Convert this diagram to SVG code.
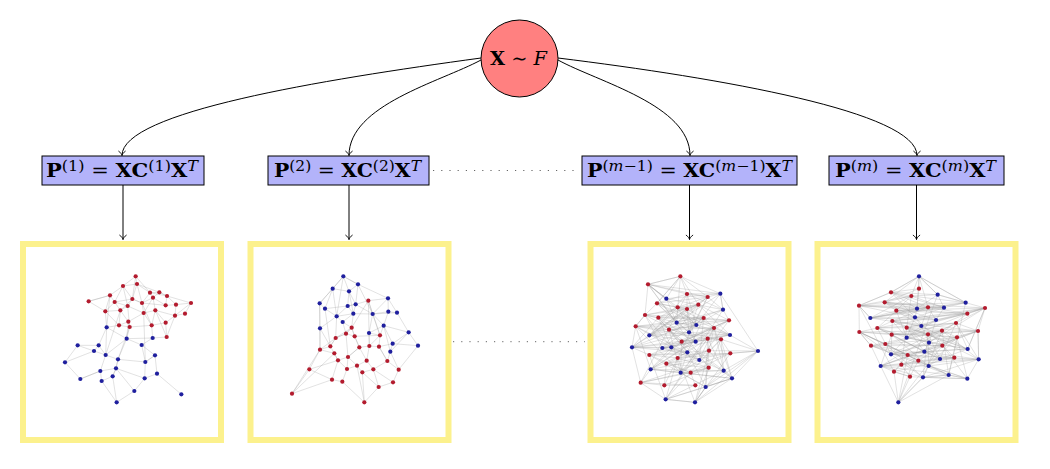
<svg xmlns="http://www.w3.org/2000/svg" xmlns:xlink="http://www.w3.org/1999/xlink" width="1050" height="469" viewBox="0 0 1050 469">
  <style>
    .math { font-family: "DejaVu Serif", "Liberation Serif", serif; font-size: 19px; fill: #000; }
    .bf { font-weight: bold; }
    .it { font-style: italic; }
    .sup { font-size: 14.5px; }
    .box { fill: #b3b3fa; stroke: #000; stroke-width: 1; }
    .frame { fill: #fff; stroke: #fcf18d; stroke-width: 6; }
    .link { fill: none; stroke: #000; stroke-width: 1; }
    .dots { fill: none; stroke: #666; stroke-width: 1; stroke-dasharray: 1.2 7; }
    .edges { fill: none; stroke: #9a9a9a; stroke-width: 1.6; stroke-opacity: 0.55; stroke-linejoin: round; }
  </style>
  <defs>
    <marker id="to" markerUnits="userSpaceOnUse" viewBox="-6 -5 7 10" refX="0" refY="0" markerWidth="7" markerHeight="10" orient="auto" overflow="visible">
      <path d="M-4.5,-3.6 C-3,-1.3 -1.2,-0.4 0,0 C-1.2,0.4 -3,1.3 -4.5,3.6" fill="none" stroke="#000" stroke-width="0.9"/>
    </marker>
    <circle id="rn" r="6.3" fill="#b31b2e"/>
    <circle id="bn" r="6.3" fill="#1f1f9e"/>
  </defs>

  <!-- source distribution -->
  <g id="source">
    <circle cx="519.5" cy="58.5" r="38.5" fill="#ff8080" stroke="#000" stroke-width="1"/>
    <text class="math" x="490" y="65" textLength="57" lengthAdjust="spacingAndGlyphs"><tspan class="bf">X</tspan> ∼ <tspan class="it">F</tspan></text>
  </g>

  <!-- probability matrices -->
  <g id="box-1">
    <rect class="box" x="42" y="156" width="162" height="29"/>
    <text class="math" x="46" y="177" textLength="152" lengthAdjust="spacingAndGlyphs"><tspan class="bf">P</tspan><tspan class="sup" dy="-6.5">(1)</tspan><tspan dy="6.5"> = </tspan><tspan class="bf">XC</tspan><tspan class="sup" dy="-6.5">(1)</tspan><tspan class="bf" dy="6.5">X</tspan><tspan class="sup it" dy="-6.5">T</tspan></text>
  </g>
  <g id="box-2">
    <rect class="box" x="268" y="156" width="161" height="29"/>
    <text class="math" x="274" y="177" textLength="147" lengthAdjust="spacingAndGlyphs"><tspan class="bf">P</tspan><tspan class="sup" dy="-6.5">(2)</tspan><tspan dy="6.5"> = </tspan><tspan class="bf">XC</tspan><tspan class="sup" dy="-6.5">(2)</tspan><tspan class="bf" dy="6.5">X</tspan><tspan class="sup it" dy="-6.5">T</tspan></text>
  </g>
  <g id="box-m-1">
    <rect class="box" x="582" y="156" width="215" height="29"/>
    <text class="math" x="587" y="177" textLength="205" lengthAdjust="spacingAndGlyphs"><tspan class="bf">P</tspan><tspan class="sup" dy="-6.5">(<tspan class="it">m</tspan>−1)</tspan><tspan dy="6.5"> = </tspan><tspan class="bf">XC</tspan><tspan class="sup" dy="-6.5">(<tspan class="it">m</tspan>−1)</tspan><tspan class="bf" dy="6.5">X</tspan><tspan class="sup it" dy="-6.5">T</tspan></text>
  </g>
  <g id="box-m">
    <rect class="box" x="829" y="156" width="175" height="29"/>
    <text class="math" x="835" y="177" textLength="161" lengthAdjust="spacingAndGlyphs"><tspan class="bf">P</tspan><tspan class="sup" dy="-6.5">(<tspan class="it">m</tspan>)</tspan><tspan dy="6.5"> = </tspan><tspan class="bf">XC</tspan><tspan class="sup" dy="-6.5">(<tspan class="it">m</tspan>)</tspan><tspan class="bf" dy="6.5">X</tspan><tspan class="sup it" dy="-6.5">T</tspan></text>
  </g>

  <!-- sampled graphs -->
  <g id="graph-1">
    <rect class="frame" x="23" y="244" width="198" height="196"/>
    <g transform="translate(20,235) scale(0.33333)">
      <path class="edges" d="M347 124L351 147L390 173L418 172L441 183L468 209L513 204L495 236L465 242L437 263L406 226L399 188L366 204L337 192L309 153L347 124L337 192L323 213L284 201L270 181L206 199L256 229L301 226L325 260L329 276L395 271L371 234L366 204L390 173L399 188L437 211L468 209L465 242L406 226L371 234L323 213L301 226L284 201L309 153L351 147L366 204L437 211L441 183L418 172L399 188L371 234L325 260L297 271L256 229L284 201L337 192L351 147L418 172"/>
      <path class="edges" d="M270 181L309 153L323 213L329 276L297 271L301 226L337 192L366 204L395 271L437 263L440 306L465 242L513 204L441 183L390 173L347 124M206 199L270 181L256 229M440 306L406 226L395 271"/>
      <path class="edges" d="M260 277L236 331L173 331L222 348L257 360L294 373L288 400L278 424L245 438L241 408L181 432L135 382L222 348L236 331L257 360L320 311L365 330L376 381L405 361L411 416L374 430L343 468L290 502L278 424L288 400L241 408L257 360L260 277L320 311L398 309L365 330L405 361L376 381L374 430L288 400L294 373L320 311"/>
      <path class="edges" d="M411 416L484 478M297 271L260 277L256 229M325 260L320 311L329 276L294 373M440 306L398 309L395 271M371 234L376 381M301 226L257 360M173 331L135 382M294 373L376 381M245 438L290 502M181 432L241 408M343 468L288 400M270 181L260 277"/>
      <g>
        <use href="#rn" x="347" y="124"/><use href="#rn" x="309" y="153"/><use href="#rn" x="351" y="147"/><use href="#rn" x="270" y="181"/>
        <use href="#rn" x="206" y="199"/><use href="#rn" x="284" y="201"/><use href="#rn" x="337" y="192"/><use href="#rn" x="390" y="173"/>
        <use href="#rn" x="418" y="172"/><use href="#rn" x="399" y="188"/><use href="#rn" x="441" y="183"/><use href="#rn" x="366" y="204"/>
        <use href="#rn" x="323" y="213"/><use href="#rn" x="301" y="226"/><use href="#rn" x="256" y="229"/><use href="#rn" x="371" y="234"/>
        <use href="#rn" x="406" y="226"/><use href="#rn" x="437" y="211"/><use href="#rn" x="468" y="209"/><use href="#rn" x="513" y="204"/>
        <use href="#rn" x="495" y="236"/><use href="#rn" x="465" y="242"/><use href="#rn" x="325" y="260"/><use href="#rn" x="297" y="271"/>
        <use href="#rn" x="329" y="276"/><use href="#rn" x="395" y="271"/><use href="#rn" x="437" y="263"/><use href="#rn" x="440" y="306"/>
        <use href="#bn" x="260" y="277"/><use href="#bn" x="320" y="311"/><use href="#bn" x="398" y="309"/><use href="#bn" x="365" y="330"/>
        <use href="#bn" x="173" y="331"/><use href="#bn" x="236" y="331"/><use href="#bn" x="222" y="348"/><use href="#bn" x="257" y="360"/>
        <use href="#bn" x="294" y="373"/><use href="#bn" x="405" y="361"/><use href="#bn" x="135" y="382"/><use href="#bn" x="376" y="381"/>
        <use href="#bn" x="288" y="400"/><use href="#bn" x="241" y="408"/><use href="#bn" x="411" y="416"/><use href="#bn" x="278" y="424"/>
        <use href="#bn" x="374" y="430"/><use href="#bn" x="181" y="432"/><use href="#bn" x="245" y="438"/><use href="#bn" x="343" y="468"/>
        <use href="#bn" x="484" y="478"/><use href="#bn" x="290" y="502"/>
      </g>
    </g>
  </g>

  <g id="graph-2">
    <rect class="frame" x="250.5" y="244" width="198" height="196"/>
    <g transform="translate(245,235) scale(0.33333)">
      <path class="edges" d="M295 124L339 148L312 169L263 161L295 124L312 169L308 213L332 208L339 148L383 237L429 190L430 230L456 233L491 292L519 332L443 326L436 350L416 272L430 230L383 237L325 236L275 244L240 221L224 205L263 161L240 221L308 213L325 236L332 208L383 237L372 294L416 272L491 292L443 326L416 272L383 237L456 233L429 190L339 148L295 124L263 161L224 205L225 280L275 244L293 261L325 236L312 169L332 208L308 213L275 244L263 161"/>
      <path class="edges" d="M370 197L405 301L373 333L343 337L329 304L320 278L303 296L272 309L256 334L225 344L268 355L279 376L309 366L343 337L365 377L373 333L402 335L427 378L461 404L444 442L401 456L385 403L365 377L336 392L306 402L292 440L261 434L193 403L141 476L261 434L279 376L268 355L256 334L272 309L320 278L329 304L303 296L309 366L336 392L352 412L385 403L427 378L402 335L405 301L329 304L343 337L309 366L306 402L279 376L193 403L225 344L272 309L303 296L320 278L370 197L373 333"/>
      <path class="edges" d="M358 502L352 412M358 502L292 440M358 502L401 456M358 502L336 392M141 476L268 355M141 476L225 344M352 412L401 456M444 442L385 403"/>
      <path class="edges" d="M225 280L225 344M225 280L256 334M293 261L303 296M293 261L320 278M372 294L373 333M372 294L405 301M416 272L405 301M443 326L402 335M436 350L427 378M436 350L461 404M519 332L461 404M275 244L272 309M325 236L320 278M383 237L405 301M370 197L383 237M370 197L332 208M370 197L429 190M224 205L225 344M240 221L256 334M491 292L436 350M295 124L275 244"/>
      <g>
        <use href="#rn" x="370" y="197"/><use href="#rn" x="320" y="278"/><use href="#rn" x="303" y="296"/><use href="#rn" x="329" y="304"/>
        <use href="#rn" x="272" y="309"/><use href="#rn" x="405" y="301"/><use href="#rn" x="256" y="334"/><use href="#rn" x="343" y="337"/>
        <use href="#rn" x="373" y="333"/><use href="#rn" x="402" y="335"/><use href="#rn" x="225" y="344"/><use href="#rn" x="268" y="355"/>
        <use href="#rn" x="309" y="366"/><use href="#rn" x="279" y="376"/><use href="#rn" x="365" y="377"/><use href="#rn" x="427" y="378"/>
        <use href="#rn" x="336" y="392"/><use href="#rn" x="306" y="402"/><use href="#rn" x="385" y="403"/><use href="#rn" x="352" y="412"/>
        <use href="#rn" x="461" y="404"/><use href="#rn" x="193" y="403"/><use href="#rn" x="261" y="434"/><use href="#rn" x="292" y="440"/>
        <use href="#rn" x="444" y="442"/><use href="#rn" x="401" y="456"/><use href="#rn" x="141" y="476"/><use href="#rn" x="358" y="502"/>
        <use href="#bn" x="295" y="124"/><use href="#bn" x="339" y="148"/><use href="#bn" x="263" y="161"/><use href="#bn" x="312" y="169"/>
        <use href="#bn" x="224" y="205"/><use href="#bn" x="240" y="221"/><use href="#bn" x="308" y="213"/><use href="#bn" x="332" y="208"/>
        <use href="#bn" x="325" y="236"/><use href="#bn" x="275" y="244"/><use href="#bn" x="383" y="237"/><use href="#bn" x="429" y="190"/>
        <use href="#bn" x="430" y="230"/><use href="#bn" x="456" y="233"/><use href="#bn" x="293" y="261"/><use href="#bn" x="416" y="272"/>
        <use href="#bn" x="225" y="280"/><use href="#bn" x="372" y="294"/><use href="#bn" x="491" y="292"/><use href="#bn" x="443" y="326"/>
        <use href="#bn" x="519" y="332"/><use href="#bn" x="436" y="350"/>
      </g>
    </g>
  </g>

  <g id="graph-m-1">
    <rect class="frame" x="590.5" y="244" width="198" height="196"/>
    <g transform="translate(585,235) scale(0.33333)">
      <path class="edges" d="M286 124L189 148L306 177L368 186L216 205L278 217L306 222L340 209L180 240L220 248L356 249L432 256L152 274L252 284L387 279L290 320L368 311L408 313L372 347L193 360L278 369L436 355L244 386L317 413L371 398L167 443L238 451L331 451"/>
      <path class="edges" d="M244 191L406 176L414 224L275 263L334 270L193 301L312 292L435 300L332 320L141 337L232 339L259 337L307 352L343 375L197 403L287 413L416 407L441 430L362 456L242 493L330 502L519 348"/>
      <path class="edges" d="M286 124L244 191L189 148L406 176L306 177L414 224L368 186L275 263L216 205L334 270L278 217L193 301L306 222L312 292L340 209L435 300L180 240L332 320L220 248L141 337L356 249L232 339L432 256L259 337L152 274L307 352L252 284L343 375L387 279L197 403L290 320L287 413L368 311L416 407L408 313L441 430L372 347L362 456L193 360L242 493L278 369L330 502L436 355L519 348"/>
      <path class="edges" d="M286 124L216 205L180 240L152 274L368 311L278 369L371 398L189 148L278 217L220 248L252 284L408 313L436 355L167 443L306 177L306 222L356 249L387 279L372 347L244 386L238 451L368 186L340 209L432 256L290 320L193 360L317 413L331 451"/>
      <path class="edges" d="M244 191L275 263L312 292L141 337L307 352L287 413L362 456L519 348L406 176L334 270L435 300L232 339L343 375L416 407L242 493L414 224L193 301L332 320L259 337L197 403L441 430L330 502"/>
      <path class="edges" d="M286 124L275 263L189 148L334 270L306 177L193 301L368 186L312 292L216 205L435 300L278 217L332 320L306 222L141 337L340 209L232 339L180 240L259 337L220 248L307 352L356 249L343 375L432 256L197 403L152 274L287 413L252 284L416 407L387 279L441 430L290 320L362 456L368 311L242 493L408 313L330 502L372 347L519 348"/>
      <path class="edges" d="M189 148L368 186L278 217L340 209L220 248L432 256L252 284L290 320L408 313L193 360L436 355L317 413L167 443L331 451M306 177L216 205L306 222L180 240L356 249L152 274L387 279L368 311L372 347L278 369L244 386L371 398L238 451"/>
      <path class="edges" d="M406 176L275 263L193 301L435 300L141 337L259 337L343 375L287 413L441 430L242 493M244 191L414 224L334 270L312 292L332 320L232 339L307 352L197 403L416 407L362 456L330 502"/>
      <path class="edges" d="M286 124L368 186L406 176L414 224L432 256M286 124L406 176M189 148L286 124M189 148L180 240L152 274L141 337L167 443L242 493L330 502L362 456L441 430L519 348L436 355M519 348L435 300M519 348L408 313M519 348L416 407M189 148L244 191M141 337L193 360M167 443L197 403M286 124L306 177M286 124L340 209M286 124L216 205"/>
      <g>
        <use href="#rn" x="286" y="124"/><use href="#rn" x="189" y="148"/><use href="#rn" x="306" y="177"/><use href="#rn" x="368" y="186"/>
        <use href="#rn" x="216" y="205"/><use href="#rn" x="278" y="217"/><use href="#rn" x="306" y="222"/><use href="#rn" x="340" y="209"/>
        <use href="#rn" x="180" y="240"/><use href="#rn" x="220" y="248"/><use href="#rn" x="356" y="249"/><use href="#rn" x="432" y="256"/>
        <use href="#rn" x="152" y="274"/><use href="#rn" x="252" y="284"/><use href="#rn" x="387" y="279"/><use href="#rn" x="290" y="320"/>
        <use href="#rn" x="368" y="311"/><use href="#rn" x="408" y="313"/><use href="#rn" x="372" y="347"/><use href="#rn" x="193" y="360"/>
        <use href="#rn" x="278" y="369"/><use href="#rn" x="436" y="355"/><use href="#rn" x="244" y="386"/><use href="#rn" x="317" y="413"/>
        <use href="#rn" x="371" y="398"/><use href="#rn" x="167" y="443"/><use href="#rn" x="238" y="451"/><use href="#rn" x="331" y="451"/>
        <use href="#bn" x="244" y="191"/><use href="#bn" x="406" y="176"/><use href="#bn" x="414" y="224"/><use href="#bn" x="275" y="263"/>
        <use href="#bn" x="334" y="270"/><use href="#bn" x="193" y="301"/><use href="#bn" x="312" y="292"/><use href="#bn" x="435" y="300"/>
        <use href="#bn" x="332" y="320"/><use href="#bn" x="141" y="337"/><use href="#bn" x="232" y="339"/><use href="#bn" x="259" y="337"/>
        <use href="#bn" x="307" y="352"/><use href="#bn" x="343" y="375"/><use href="#bn" x="197" y="403"/><use href="#bn" x="287" y="413"/>
        <use href="#bn" x="416" y="407"/><use href="#bn" x="441" y="430"/><use href="#bn" x="362" y="456"/><use href="#bn" x="242" y="493"/>
        <use href="#bn" x="330" y="502"/><use href="#bn" x="519" y="348"/>
      </g>
    </g>
  </g>

  <g id="graph-m">
    <rect class="frame" x="817.5" y="244" width="198" height="196"/>
    <g transform="translate(812,235) scale(0.33333)">
      <path class="edges" d="M321 161L237 172L298 183L141 212L218 202L348 217L253 227L466 236L519 219L241 258L196 279L284 278L432 264L498 288L239 299L348 298L390 287L435 307L142 291L220 327L177 332L391 332L287 360L319 377L427 368L268 389L246 410L294 425"/>
      <path class="edges" d="M321 124L377 179L461 203L315 221L396 218L175 249L309 247L372 255L328 273L284 308L351 323L467 342L237 358L337 350L384 372L500 373L206 393L350 393L333 427L410 420L466 431L333 427L259 502"/>
      <path class="edges" d="M321 161L321 124L237 172L377 179L298 183L461 203L141 212L315 221L218 202L396 218L348 217L175 249L253 227L309 247L466 236L372 255L519 219L328 273L241 258L284 308L196 279L351 323L284 278L467 342L432 264L237 358L498 288L337 350L239 299L384 372L348 298L500 373L390 287L206 393L435 307L350 393L142 291L333 427L220 327L410 420L177 332L466 431L391 332L259 502L287 360"/>
      <path class="edges" d="M321 161L218 202L519 219L432 264L390 287L177 332L427 368L237 172L348 217L241 258L498 288L435 307L391 332L268 389L298 183L253 227L196 279L239 299L142 291L287 360L246 410L141 212L466 236L284 278L348 298L220 327L319 377L294 425"/>
      <path class="edges" d="M321 124L315 221L309 247L284 308L237 358L500 373L333 427L259 502L377 179L396 218L372 255L351 323L337 350L206 393L410 420L461 203L175 249L328 273L467 342L384 372L350 393L466 431"/>
      <path class="edges" d="M321 161L315 221L237 172L396 218L298 183L175 249L141 212L309 247L218 202L372 255L348 217L328 273L253 227L284 308L466 236L351 323L519 219L467 342L241 258L237 358L196 279L337 350L284 278L384 372L432 264L500 373L498 288L206 393L239 299L350 393L348 298L333 427L390 287L410 420L435 307L466 431"/>
      <path class="edges" d="M237 172L141 212L348 217L466 236L241 258L284 278L498 288L348 298L435 307L220 327L391 332L319 377L268 389L294 425M298 183L218 202L253 227L519 219L196 279L432 264L239 299L390 287L142 291L177 332L287 360L427 368L246 410"/>
      <path class="edges" d="M377 179L315 221L175 249L372 255L284 308L467 342L337 350L500 373L350 393L410 420L259 502M321 124L461 203L396 218L309 247L328 273L351 323L237 358L384 372L206 393L333 427L466 431"/>
      <path class="edges" d="M321 124L237 172M321 124L461 203M321 124L348 217M321 124L218 202M321 124L298 183M141 212L142 291L177 332L206 393L246 410L294 425L333 427L410 420L466 431L500 373L498 288L519 219L461 203L377 179L321 124M141 212L237 172M141 212L175 249M519 219L466 236M519 219L467 342M259 502L206 393M259 502L246 410M259 502L294 425M142 291L196 279M142 291L220 327"/>
      <g>
        <use href="#rn" x="321" y="161"/><use href="#rn" x="237" y="172"/><use href="#rn" x="298" y="183"/><use href="#rn" x="141" y="212"/>
        <use href="#rn" x="218" y="202"/><use href="#rn" x="348" y="217"/><use href="#rn" x="253" y="227"/><use href="#rn" x="466" y="236"/>
        <use href="#rn" x="519" y="219"/><use href="#rn" x="241" y="258"/><use href="#rn" x="196" y="279"/><use href="#rn" x="284" y="278"/>
        <use href="#rn" x="432" y="264"/><use href="#rn" x="498" y="288"/><use href="#rn" x="239" y="299"/><use href="#rn" x="348" y="298"/>
        <use href="#rn" x="390" y="287"/><use href="#rn" x="435" y="307"/><use href="#rn" x="142" y="291"/><use href="#rn" x="220" y="327"/>
        <use href="#rn" x="177" y="332"/><use href="#rn" x="391" y="332"/><use href="#rn" x="287" y="360"/><use href="#rn" x="319" y="377"/>
        <use href="#rn" x="427" y="368"/><use href="#rn" x="268" y="389"/><use href="#rn" x="246" y="410"/><use href="#rn" x="294" y="425"/>
        <use href="#bn" x="321" y="124"/><use href="#bn" x="377" y="179"/><use href="#bn" x="461" y="203"/><use href="#bn" x="315" y="221"/>
        <use href="#bn" x="396" y="218"/><use href="#bn" x="175" y="249"/><use href="#bn" x="309" y="247"/><use href="#bn" x="372" y="255"/>
        <use href="#bn" x="328" y="273"/><use href="#bn" x="284" y="308"/><use href="#bn" x="351" y="323"/><use href="#bn" x="467" y="342"/>
        <use href="#bn" x="237" y="358"/><use href="#bn" x="337" y="350"/><use href="#bn" x="384" y="372"/><use href="#bn" x="500" y="373"/>
        <use href="#bn" x="206" y="393"/><use href="#bn" x="350" y="393"/><use href="#bn" x="333" y="427"/><use href="#bn" x="410" y="420"/>
        <use href="#bn" x="466" y="431"/><use href="#bn" x="259" y="502"/>
      </g>
    </g>
  </g>

  <!-- connectors -->
  <g id="connectors">
    <path class="link" marker-end="url(#to)" d="M481,58 C320,80 122,112 122,155.5"/>
    <path class="link" marker-end="url(#to)" d="M481,60 C440,82 349,105 349,155.5"/>
    <path class="link" marker-end="url(#to)" d="M558,60 C598,82 690,105 690,155.5"/>
    <path class="link" marker-end="url(#to)" d="M558,58 C720,78 917,112 917,155.5"/>
    <path class="link" marker-end="url(#to)" d="M123,185 V239.5"/>
    <path class="link" marker-end="url(#to)" d="M349,185 V239.5"/>
    <path class="link" marker-end="url(#to)" d="M689.5,185 V239.5"/>
    <path class="link" marker-end="url(#to)" d="M916.5,185 V239.5"/>
    <path class="dots" d="M433,170.5 H580"/>
    <path class="dots" d="M453,341.7 H585"/>
  </g>
</svg>
